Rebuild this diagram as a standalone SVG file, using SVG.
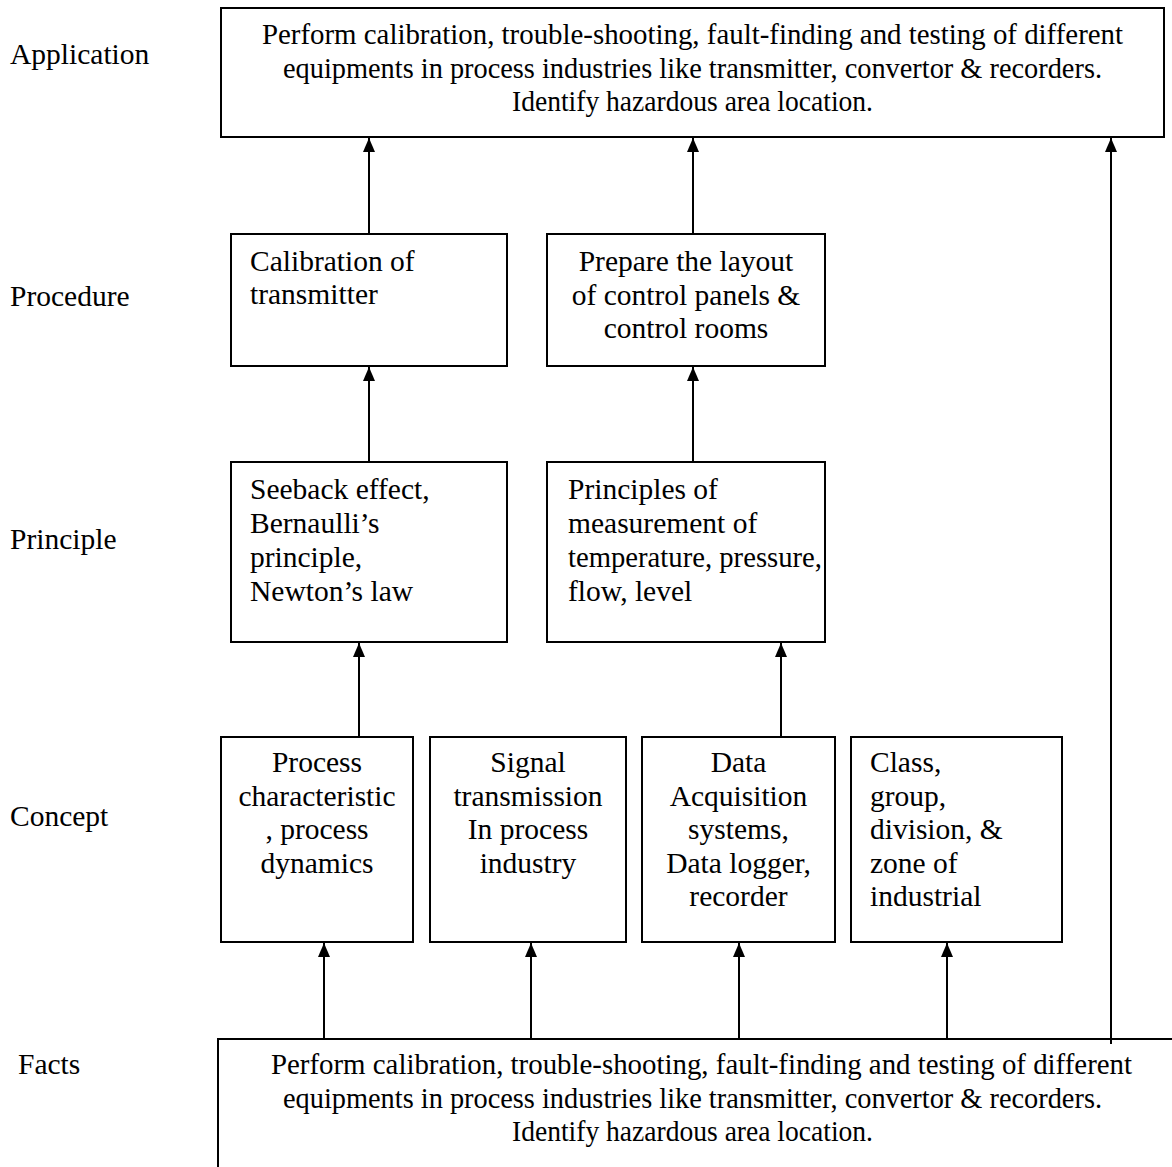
<svg xmlns="http://www.w3.org/2000/svg" width="1172" height="1167" viewBox="0 0 1172 1167">
<style>
  .box { fill: #fff; stroke: #000; stroke-width: 2; }
  .t { font-family: "Liberation Serif", "Times New Roman", serif; font-size: 29.5px; fill: #000; }
  .c { text-anchor: middle; }
  .conn line { stroke: #000; stroke-width: 2; marker-end: url(#ah); }
</style>
<defs>
  <marker id="ah" viewBox="0 0 14 12" refX="14" refY="6" markerWidth="14" markerHeight="12" markerUnits="userSpaceOnUse" orient="auto">
    <path d="M0,0 L14,6 L0,12 z" fill="#000"/>
  </marker>
</defs>
<rect width="1172" height="1167" fill="#fff"/>

<g id="labels">
  <text class="t" x="10" y="64">Application</text>
  <text class="t" x="10" y="306">Procedure</text>
  <text class="t" x="10" y="549">Principle</text>
  <text class="t" x="10" y="826">Concept</text>
  <text class="t" x="18" y="1074">Facts</text>
</g>

<g id="application">
  <rect class="box" x="221" y="8" width="943" height="129"/>
  <text class="t c" x="692.5" y="44" textLength="861" lengthAdjust="spacingAndGlyphs">Perform calibration, trouble-shooting, fault-finding and testing of different</text>
  <text class="t c" x="692.5" y="77.5" textLength="819" lengthAdjust="spacingAndGlyphs">equipments in process industries like transmitter, convertor &amp; recorders.</text>
  <text class="t c" x="692.5" y="111" textLength="361" lengthAdjust="spacingAndGlyphs">Identify hazardous area location.</text>
</g>

<g id="proc-calibration">
  <rect class="box" x="231" y="234" width="276" height="132"/>
  <text class="t" x="250" y="271">Calibration of</text>
  <text class="t" x="250" y="304">transmitter</text>
</g>

<g id="proc-layout">
  <rect class="box" x="547" y="234" width="278" height="132"/>
  <text class="t c" x="686" y="271">Prepare the layout</text>
  <text class="t c" x="686" y="304.5">of control panels &amp;</text>
  <text class="t c" x="686" y="338">control rooms</text>
</g>

<g id="princ-seeback">
  <rect class="box" x="231" y="462" width="276" height="180"/>
  <text class="t" x="250" y="499">Seeback effect,</text>
  <text class="t" x="250" y="533">Bernaulli’s</text>
  <text class="t" x="250" y="567">principle,</text>
  <text class="t" x="250" y="601">Newton’s law</text>
</g>

<g id="princ-measurement">
  <rect class="box" x="547" y="462" width="278" height="180"/>
  <text class="t" x="568" y="499">Principles of</text>
  <text class="t" x="568" y="533">measurement of</text>
  <text class="t" x="568" y="567" textLength="254" lengthAdjust="spacingAndGlyphs">temperature, pressure,</text>
  <text class="t" x="568" y="601">flow, level</text>
</g>

<g id="concept-process">
  <rect class="box" x="221" y="737" width="192" height="205"/>
  <text class="t c" x="317" y="772">Process</text>
  <text class="t c" x="317" y="805.5">characteristic</text>
  <text class="t c" x="317" y="839">, process</text>
  <text class="t c" x="317" y="872.5">dynamics</text>
</g>

<g id="concept-signal">
  <rect class="box" x="430" y="737" width="196" height="205"/>
  <text class="t c" x="528" y="772">Signal</text>
  <text class="t c" x="528" y="805.5">transmission</text>
  <text class="t c" x="528" y="839">In process</text>
  <text class="t c" x="528" y="872.5">industry</text>
</g>

<g id="concept-data">
  <rect class="box" x="642" y="737" width="193" height="205"/>
  <text class="t c" x="738.5" y="772">Data</text>
  <text class="t c" x="738.5" y="805.5">Acquisition</text>
  <text class="t c" x="738.5" y="839">systems,</text>
  <text class="t c" x="738.5" y="872.5">Data logger,</text>
  <text class="t c" x="738.5" y="906">recorder</text>
</g>

<g id="concept-class">
  <rect class="box" x="851" y="737" width="211" height="205"/>
  <text class="t" x="870" y="772">Class,</text>
  <text class="t" x="870" y="805.5">group,</text>
  <text class="t" x="870" y="839">division, &amp;</text>
  <text class="t" x="870" y="872.5">zone of</text>
  <text class="t" x="870" y="906">industrial</text>
</g>

<g id="facts">
  <rect class="box" x="218" y="1039" width="1000" height="200"/>
  <text class="t c" x="701.5" y="1074" textLength="861" lengthAdjust="spacingAndGlyphs">Perform calibration, trouble-shooting, fault-finding and testing of different</text>
  <text class="t c" x="692.5" y="1107.5" textLength="819" lengthAdjust="spacingAndGlyphs">equipments in process industries like transmitter, convertor &amp; recorders.</text>
  <text class="t c" x="692.5" y="1141" textLength="361" lengthAdjust="spacingAndGlyphs">Identify hazardous area location.</text>
</g>

<g id="connectors" class="conn">
  <line x1="369" y1="234" x2="369" y2="138"/>
  <line x1="693" y1="234" x2="693" y2="138"/>
  <line x1="369" y1="462" x2="369" y2="367"/>
  <line x1="693" y1="462" x2="693" y2="367"/>
  <line x1="359" y1="737" x2="359" y2="643"/>
  <line x1="781" y1="737" x2="781" y2="643"/>
  <line x1="324" y1="1039" x2="324" y2="943"/>
  <line x1="531" y1="1039" x2="531" y2="943"/>
  <line x1="739" y1="1039" x2="739" y2="943"/>
  <line x1="947" y1="1039" x2="947" y2="943"/>
  <line x1="1111" y1="1044" x2="1111" y2="138"/>
</g>
</svg>
